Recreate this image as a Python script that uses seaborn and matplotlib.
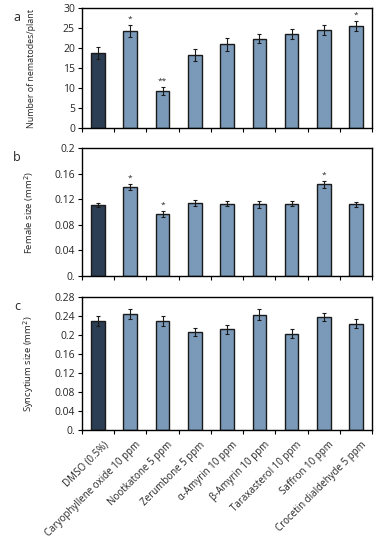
import numpy as np
import pandas as pd
import seaborn as sns
import matplotlib.pyplot as plt

treatments = ["DMSO (0.5%)", "Caryophyllene oxide 10 ppm", "Nootkatone 5 ppm",
              "Zerumbone 5 ppm", "α-Amyrin 10 ppm", "β-Amyrin 10 ppm",
              "Taraxasterol 10 ppm", "Saffron 10 ppm", "Crocetin dialdehyde 5 ppm"]

nematodes = [18.7, 24.3, 9.3, 18.3, 21.0, 22.4, 23.5, 24.6, 25.6]
nematodes_err = [1.5, 1.6, 0.9, 1.4, 1.6, 1.2, 1.3, 1.3, 1.3]
nematodes_sig = ["", "*", "**", "", "", "", "", "", "*"]

female = [0.111, 0.139, 0.097, 0.114, 0.113, 0.112, 0.113, 0.143, 0.112]
female_err = [0.003, 0.005, 0.004, 0.005, 0.004, 0.005, 0.004, 0.005, 0.004]
female_sig = ["", "*", "*", "", "", "", "", "*", ""]

syncytium = [0.229, 0.244, 0.230, 0.206, 0.212, 0.243, 0.203, 0.238, 0.224]
syncytium_err = [0.011, 0.011, 0.011, 0.008, 0.009, 0.011, 0.010, 0.008, 0.010]
syncytium_sig = [""] * 9

sns.set_style("white")
plt.rcParams['font.family'] = ['Open Sans', 'DejaVu Sans']

dark = "#2c3e53"
light = "#7b9aba"
palette = [dark] + [light] * 8

fig = plt.figure(figsize=(3.79, 5.5), dpi=100)
panels = [
    ("a", nematodes, nematodes_err, nematodes_sig, "Number of nematodes/plant", 6.4,
     [0, 5, 10, 15, 20, 25, 30], ["0", "5", "10", "15", "20", "25", "30"], 30,
     [0.216, 0.767, 0.766, 0.218], 0.969),
    ("b", female, female_err, female_sig, "Female size (mm$^2$)", 6.8,
     [0, 0.04, 0.08, 0.12, 0.16, 0.2], ["0.", "0.04", "0.08", "0.12", "0.16", "0.2"], 0.2,
     [0.216, 0.498, 0.766, 0.233], 0.714),
    ("c", syncytium, syncytium_err, syncytium_sig, "Syncytium size (mm$^2$)", 6.8,
     [0, 0.04, 0.08, 0.12, 0.16, 0.2, 0.24, 0.28],
     ["0.", "0.04", "0.08", "0.12", "0.16", "0.2", "0.24", "0.28"], 0.28,
     [0.216, 0.218, 0.766, 0.242], 0.443),
]

for letter, vals, errs, sig, ylabel, lsize, yt, ytl, ymax, pos, ly in panels:
    ax = fig.add_axes(pos)
    df = pd.DataFrame({"treatment": treatments, "value": vals})
    sns.barplot(data=df, x="treatment", y="value", hue="treatment", palette=palette,
                legend=False, width=0.42, edgecolor="#1a1a1a", linewidth=1.0,
                saturation=1, ax=ax)
    ax.errorbar(np.arange(len(vals)), vals, yerr=errs, fmt="none", ecolor="#1a1a1a",
                elinewidth=0.8, capsize=1.6, capthick=0.8)
    for i, s in enumerate(sig):
        if s:
            ax.text(i, vals[i] + errs[i] + ymax * 0.02, s, ha="center", va="bottom",
                    fontsize=6)
    ax.set_xlim(-0.5, len(vals) - 0.5)
    ax.set_ylim(0, ymax)
    ax.set_yticks(yt)
    ax.set_yticklabels(ytl, fontsize=7.5)
    ax.set_ylabel(ylabel, fontsize=lsize)
    ax.yaxis.set_label_coords(-0.158, 0.5)
    ax.set_xlabel("")
    ax.set_xticks(np.arange(len(vals) + 1) - 0.5)
    ax.set_xticklabels([""] * (len(vals) + 1))
    for sp in ax.spines.values():
        sp.set_color("black")
        sp.set_linewidth(1.0)
    ax.tick_params(axis="both", direction="out", length=3, width=0.8, color="black",
                   left=True, bottom=True, pad=2)
    if letter == "c":
        for i, t in enumerate(treatments):
            ax.text(i + 0.15, -ymax * 0.07, t, rotation=45, ha="right", va="top",
                    fontsize=7, rotation_mode="anchor")
    fig.text(0.045, ly, letter, fontsize=9, ha="center", va="center")

fig.savefig("out.png", dpi=100)
